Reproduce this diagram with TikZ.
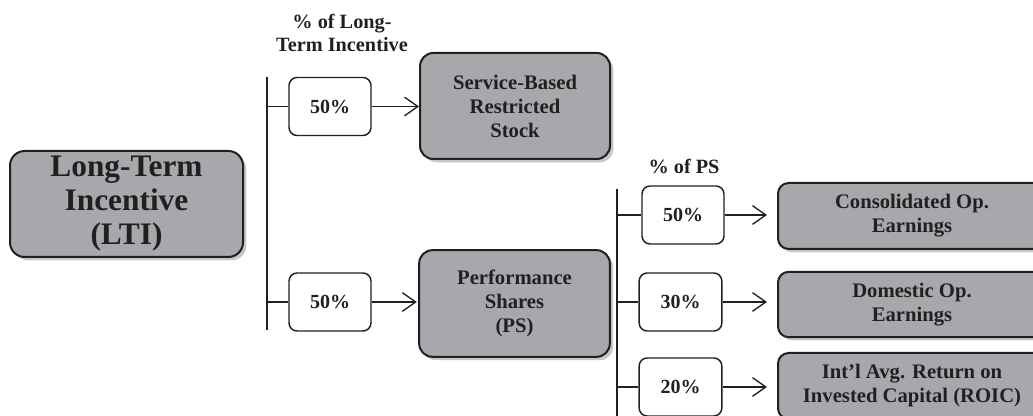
\documentclass[tikz,border=0pt]{standalone}
\usepackage{fontspec}
\setmainfont{Liberation Serif}
\usetikzlibrary{arrows.meta,shadows}
\definecolor{boxgray}{HTML}{A6A8AB}
\definecolor{ink}{HTML}{231F20}
\tikzset{
  bigbox/.style={draw=ink, line width=1.5pt, fill=boxgray, rounded corners=8pt,
    align=center, inner sep=0pt, text=ink,
    drop shadow={shadow xshift=2.5pt, shadow yshift=-2.5pt, opacity=1, fill=black!22},
    font=\fontsize{15.5}{18}\selectfont\bfseries},
  pctbox/.style={draw=ink, line width=1.1pt, fill=white, rounded corners=6pt,
    align=center, inner sep=0pt, text=ink, minimum width=61.5pt, minimum height=43.5pt,
    font=\fontsize{15}{16}\selectfont\bfseries},
  hdr/.style={align=center, text=ink, font=\fontsize{15.2}{17.3}\selectfont\bfseries},
  conn/.style={draw=ink, line width=1pt},
  arr/.style={conn, -{Straight Barb[length=10pt,width=14pt,line width=1pt]}},
}
\begin{document}
\begin{tikzpicture}[x=0.75pt,y=-0.75pt]
\useasboundingbox (0,0) rectangle (1033,416);
\clip (0,0) rectangle (1033,416);
% main boxes
\node[bigbox, minimum width=174.75pt, minimum height=79.5pt, rounded corners=11pt,
  font=\fontsize{23.5}{25.5}\selectfont\bfseries] (lti) at (126.5,204) {Long-Term\\Incentive\\(LTI)};
\node[bigbox, minimum width=142.5pt, minimum height=79.5pt, rounded corners=10pt] (sbrs) at (515,106) {Service-Based\\Restricted\\Stock};
\node[bigbox, minimum width=143pt, minimum height=80pt, rounded corners=10pt] (ps) at (514.5,303.5) {Performance\\Shares\\(PS)};
\node[bigbox, minimum width=201pt, minimum height=49.5pt] (coe) at (912,216) {Consolidated Op.\\Earnings};
\node[bigbox, minimum width=201pt, minimum height=49pt] (doe) at (912,304.5) {Domestic Op.\\Earnings};
\node[bigbox, minimum width=201pt, minimum height=49.5pt] (roic) at (912,386) {Int'l Avg. Return on\\Invested Capital (ROIC)};
% percentage boxes
\node[pctbox] (p1) at (330,106.5) {50\%};
\node[pctbox] (p2) at (330,302) {50\%};
\node[pctbox] (q1) at (683,215) {50\%};
\node[pctbox, minimum width=62pt] (q2) at (680.5,302) {30\%};
\node[pctbox, minimum width=62pt] (q3) at (680.5,387) {20\%};
% headers
\node[hdr] (h1) at (342,33) {\% of Long-\\Term Incentive};
\node[hdr] (h2) at (684,167) {\% of PS};
% vertical bars
\coordinate (v1t) at (267,77);
\coordinate (v1b) at (267,330);
\coordinate (v2t) at (617,189);
\coordinate (v2b) at (617,416);
\draw[conn] (v1t) -- (v1b);
\draw[conn] (v2t) -- (v2b);
% connectors
\draw[conn] (p1.west -| v1t) -- (p1.west);
\draw[conn] (p2.west -| v1t) -- (p2.west);
\draw[conn] (q1.west -| v2t) -- (q1.west);
\draw[conn] (q2.west -| v2t) -- (q2.west);
\draw[conn] (q3.west -| v2t) -- (q3.west);
\draw[arr] (p1.east) -- (p1.east -| sbrs.west);
\draw[arr] (p2.east) -- ([xshift=-1pt]p2.east -| ps.west);
\draw[arr] (q1.east) -- ([xshift=-7.5pt]q1.east -| coe.west);
\draw[arr] (q2.east) -- ([xshift=-7.5pt]q2.east -| doe.west);
\draw[arr] (q3.east) -- ([xshift=-7.5pt]q3.east -| roic.west);
\end{tikzpicture}
\end{document}
